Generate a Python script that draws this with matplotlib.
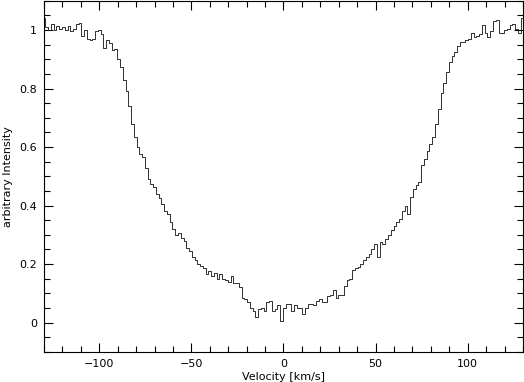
import matplotlib
matplotlib.use('Agg')
import matplotlib.pyplot as plt
import numpy as np
from matplotlib.ticker import MultipleLocator

# channel grid of the spectrum (km/s)
v_start = -130.0
v_step = 1.5

intensity = [
    1.04, 1.01, 1.00, 1.02, 1.00, 1.015, 1.005, 1.01, 1.00, 1.015,
    0.995, 1.005, 1.02, 1.025, 0.98, 1.00, 0.97, 0.965, 0.97, 0.995,
    1.00, 0.985, 0.94, 0.965, 0.955, 0.93, 0.935, 0.90, 0.875, 0.83,
    0.79, 0.74, 0.68, 0.635, 0.60, 0.575, 0.565, 0.53, 0.49, 0.475,
    0.465, 0.44, 0.425, 0.405, 0.38, 0.37, 0.345, 0.32, 0.30, 0.305,
    0.29, 0.28, 0.255, 0.245, 0.225, 0.215, 0.20, 0.195, 0.185, 0.165,
    0.175, 0.16, 0.17, 0.15, 0.165, 0.15, 0.145, 0.14, 0.16, 0.135,
    0.135, 0.12, 0.085, 0.08, 0.07, 0.05, 0.04, 0.02, 0.045, 0.05,
    0.04, 0.07, 0.075, 0.04, 0.045, 0.06, 0.005, 0.05, 0.065, 0.065,
    0.04, 0.06, 0.05, 0.05, 0.03, 0.05, 0.065, 0.065, 0.06, 0.075,
    0.08, 0.07, 0.07, 0.09, 0.095, 0.11, 0.085, 0.095, 0.095, 0.125,
    0.145, 0.15, 0.18, 0.185, 0.19, 0.20, 0.215, 0.225, 0.235, 0.25,
    0.27, 0.225, 0.275, 0.27, 0.285, 0.30, 0.315, 0.33, 0.345, 0.355,
    0.38, 0.40, 0.37, 0.43, 0.455, 0.47, 0.48, 0.54, 0.56, 0.585,
    0.61, 0.635, 0.68, 0.73, 0.785, 0.82, 0.855, 0.89, 0.91, 0.925,
    0.945, 0.96, 0.96, 0.965, 0.97, 0.99, 0.977, 0.98, 0.985, 1.017,
    0.99, 0.975, 0.995, 1.03, 1.035, 0.99, 0.99, 1.00, 1.005, 1.017,
    1.02, 1.005, 0.99, 1.04,
]

x_ticks = [-100, -50, 0, 50, 100]
y_ticks = [0, 0.2, 0.4, 0.6, 0.8, 1]
y_tick_labels = ['0', '0.2', '0.4', '0.6', '0.8', '1']

velocity = v_start + v_step * np.arange(len(intensity))

fig = plt.figure(figsize=(5.24, 3.82), dpi=100)
ax = fig.add_axes([0.084, 0.079, 0.914, 0.919])

ax.step(velocity, intensity, where='mid', color='#222222', lw=0.65)

ax.set_xlim(-130, 130)
ax.set_ylim(-0.1, 1.1)
ax.set_xticks(x_ticks)
ax.set_yticks(y_ticks)
ax.set_yticklabels(y_tick_labels)
ax.xaxis.set_minor_locator(MultipleLocator(10))
ax.yaxis.set_minor_locator(MultipleLocator(0.05))

ax.tick_params(which='both', direction='in', top=True, right=True, labelsize=8, width=0.8)
ax.tick_params(which='major', length=6.5, pad=5)
ax.tick_params(which='minor', length=4)
for s in ax.spines.values():
    s.set_linewidth(0.8)

ax.set_xlabel('Velocity [km/s]', fontsize=8, labelpad=2)
ax.set_ylabel('arbitrary Intensity', fontsize=8)
ax.yaxis.set_label_coords(-0.064, 0.5)

fig.savefig('out.png', dpi=100)
